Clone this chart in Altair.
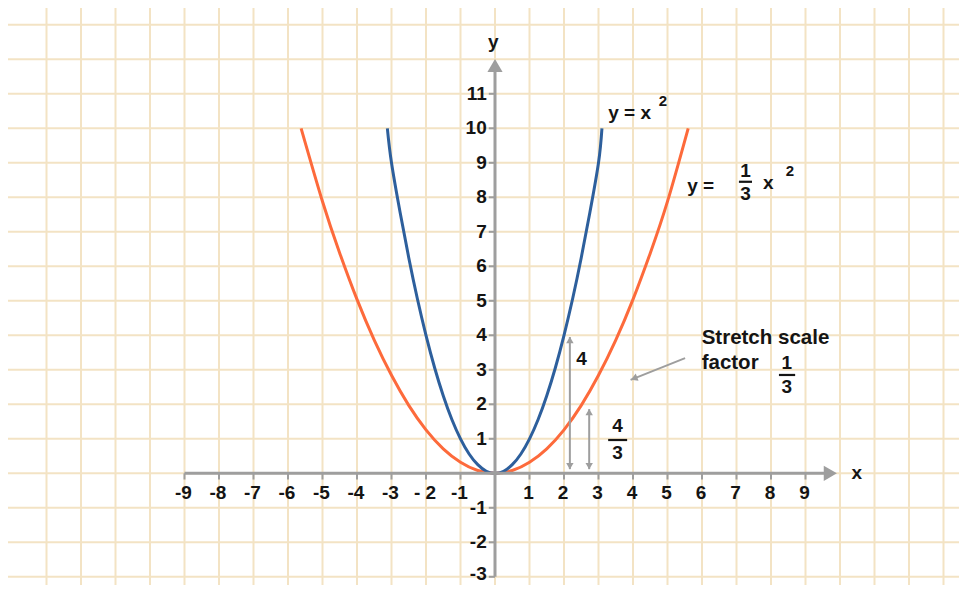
import altair as alt
import pandas as pd

# ---------------- data ----------------
blue_x = [-3.12, -3.0, -2.75, -2.5, -2.25, -2.0, -1.75, -1.5, -1.25, -1.0, -0.75, -0.5, -0.25, 0.0,
          0.25, 0.5, 0.75, 1.0, 1.25, 1.5, 1.75, 2.0, 2.25, 2.5, 2.75, 3.0, 3.1]
blue_y = [10.0, 9.0, 7.56, 6.25, 5.06, 4.0, 3.06, 2.25, 1.56, 1.0, 0.56, 0.25, 0.06, 0.0,
          0.06, 0.25, 0.56, 1.0, 1.56, 2.25, 3.06, 4.0, 5.06, 6.25, 7.56, 9.0, 10.0]

orange_x = [-5.62, -5.0, -4.5, -4.0, -3.5, -3.0, -2.5, -2.0, -1.5, -1.0, -0.5, 0.0,
            0.5, 1.0, 1.5, 2.0, 2.5, 3.0, 3.5, 4.0, 4.5, 5.0, 5.6]
orange_y = [10.0, 7.88, 6.38, 5.04, 3.86, 2.84, 1.97, 1.26, 0.71, 0.32, 0.08, 0.0,
            0.08, 0.32, 0.71, 1.26, 1.97, 2.84, 3.86, 5.04, 6.38, 7.88, 10.0]

x_tick_values = [-9, -8, -7, -6, -5, -4, -3, -2, -1, 1, 2, 3, 4, 5, 6, 7, 8, 9]
x_tick_labels = ["-9", "-8", "-7", "-6", "-5", "-4", "-3", "- 2", "-1", "1", "2", "3", "4", "5", "6", "7", "8", "9"]
y_tick_values = [11, 10, 9, 8, 7, 6, 5, 4, 3, 2, 1, -1, -2]
y_tick_labels = ["11", "10", "9", "8", "7", "6", "5", "4", "3", "2", "1", "-1", "-2"]
y_bottom_value = [-3]
y_bottom_label = ["-3"]

grid_x = list(range(-13, 14))
grid_y = list(range(-3, 14))

# annotation texts (text, x, y)
left_texts = ["y = x", "y ="]
left_x = [3.28, 5.57]
left_y = [10.44, 8.33]

note_texts = ["Stretch scale", "factor"]
note_x = [5.99, 5.99]
note_y = [3.92, 3.20]

center_texts = ["1", "3", "x", "1", "3", "4", "4", "3", "x", "y"]
center_x = [7.26, 7.26, 7.92, 8.46, 8.46, 2.51, 3.55, 3.55, 10.49, -0.05]
center_y = [8.76, 8.10, 8.41, 3.20, 2.50, 3.31, 1.36, 0.58, 0.0, 12.51]

sup_texts = ["2", "2"]
sup_x = [4.87, 8.55]
sup_y = [10.80, 8.76]

frac_x1 = [7.07, 8.23, 3.28]
frac_x2 = [7.45, 8.70, 3.83]
frac_y = [8.45, 2.85, 0.965]

# vertical double arrows (x, y bottom, y top)
varrow_x = [2.17, 2.73]
varrow_y0 = [0.12, 0.12]
varrow_y1 = [3.95, 1.86]

# pointer arrow (from -> to)
ptr_x0, ptr_y0, ptr_x1, ptr_y1 = 5.51, 3.34, 3.93, 2.71

# ---------------- layout ----------------
W, H = 951, 577
UNIT = 34.5
OX, OY = 487.0, 465.3
XMIN, XMAX = -OX / UNIT, (W - OX) / UNIT
YMAX, YMIN = OY / UNIT, -(H - OY) / UNIT

xs = alt.Scale(domain=[XMIN, XMAX], nice=False, zero=False)
ys = alt.Scale(domain=[YMIN, YMAX], nice=False, zero=False)

def X(f="x"):
    return alt.X(f"{f}:Q", scale=xs, axis=None)

def Y(f="y"):
    return alt.Y(f"{f}:Q", scale=ys, axis=None)

GRID = "#f3e3c4"
GRAY = "#9e9e9e"
FONT = "Liberation Sans"
TXT = "#141414"

grid_v = alt.Chart(pd.DataFrame({"x": grid_x})).mark_rule(color=GRID, strokeWidth=2).encode(x=X())
grid_h = alt.Chart(pd.DataFrame({"y": grid_y})).mark_rule(color=GRID, strokeWidth=2).encode(y=Y())

orange = alt.Chart(pd.DataFrame({"x": orange_x, "y": orange_y, "o": range(len(orange_x))})).mark_line(
    color="#fd6a3b", strokeWidth=3, interpolate="natural").encode(x=X(), y=Y(), order="o:Q")
blue = alt.Chart(pd.DataFrame({"x": blue_x, "y": blue_y, "o": range(len(blue_x))})).mark_line(
    color="#2d5f9c", strokeWidth=3, interpolate="natural").encode(x=X(), y=Y(), order="o:Q")

# axes
axes_df = pd.DataFrame({"x": [-9, 0], "x2": [9.72, 0], "y": [0, -3], "y2": [0, 11.82]})
axes = alt.Chart(axes_df).mark_rule(color=GRAY, strokeWidth=3).encode(
    x=X(), x2="x2:Q", y=Y(), y2="y2:Q")
xarrow = alt.Chart(pd.DataFrame({"x": [9.72], "y": [0]})).mark_point(
    shape="triangle-right", filled=True, color=GRAY, size=230, opacity=1).encode(x=X(), y=Y())
yarrow = alt.Chart(pd.DataFrame({"x": [0], "y": [11.82]})).mark_point(
    shape="triangle-up", filled=True, color=GRAY, size=230, opacity=1).encode(x=X(), y=Y())

xt = pd.DataFrame({"x": x_tick_values, "y": [0] * len(x_tick_values), "y2": [-0.18] * len(x_tick_values)})
xticks = alt.Chart(xt).mark_rule(color=GRAY, strokeWidth=2).encode(x=X(), y=Y(), y2="y2:Q")
all_y_ticks = y_tick_values + y_bottom_value
yt = pd.DataFrame({"y": all_y_ticks, "x": [0] * len(all_y_ticks), "x2": [-0.18] * len(all_y_ticks)})
yticks = alt.Chart(yt).mark_rule(color=GRAY, strokeWidth=2).encode(x=X(), x2="x2:Q", y=Y())

xlab = alt.Chart(pd.DataFrame({"x": x_tick_values, "t": x_tick_labels, "y": [-0.57] * len(x_tick_values)})).mark_text(
    font=FONT, fontWeight="bold", fontSize=19, color=TXT, align="center", baseline="middle", dx=-1).encode(
    x=X(), y=Y(), text="t:N")
ylab = alt.Chart(pd.DataFrame({"y": y_tick_values, "t": y_tick_labels, "x": [-0.24] * len(y_tick_values)})).mark_text(
    font=FONT, fontWeight="bold", fontSize=19, color=TXT, align="right", baseline="middle").encode(
    x=X(), y=Y(), text="t:N")
ylab_bottom = alt.Chart(pd.DataFrame({"y": y_bottom_value, "t": y_bottom_label, "x": [-0.24]})).mark_text(
    font=FONT, fontWeight="bold", fontSize=19, color=TXT, align="right", baseline="bottom", dy=7).encode(
    x=X(), y=Y(), text="t:N")

# vertical double arrows
va = pd.DataFrame({"x": varrow_x, "y": varrow_y0, "y2": varrow_y1})
vrules = alt.Chart(va).mark_rule(color=GRAY, strokeWidth=2).encode(x=X(), y=Y(), y2="y2:Q")
vheads_top = alt.Chart(pd.DataFrame({"x": varrow_x, "y": varrow_y1})).mark_point(
    shape="triangle-up", filled=True, color=GRAY, size=55, opacity=1, yOffset=3).encode(x=X(), y=Y())
vheads_bot = alt.Chart(pd.DataFrame({"x": varrow_x, "y": varrow_y0})).mark_point(
    shape="triangle-down", filled=True, color=GRAY, size=55, opacity=1, yOffset=-3).encode(x=X(), y=Y())

# pointer arrow
ptr = alt.Chart(pd.DataFrame({"x": [ptr_x0], "y": [ptr_y0], "x2": [ptr_x1], "y2": [ptr_y1]})).mark_rule(
    color=GRAY, strokeWidth=2).encode(x=X(), y=Y(), x2="x2:Q", y2="y2:Q")
ptr_head = alt.Chart(pd.DataFrame({"x": [ptr_x1 + 0.1], "y": [ptr_y1 + 0.04]})).mark_point(
    shape="triangle-up", filled=True, color=GRAY, size=60, opacity=1, angle=248).encode(x=X(), y=Y())

# fraction bars
fr = alt.Chart(pd.DataFrame({"x": frac_x1, "x2": frac_x2, "y": frac_y})).mark_rule(
    color=TXT, strokeWidth=2.2).encode(x=X(), x2="x2:Q", y=Y())

left_t = alt.Chart(pd.DataFrame({"x": left_x, "y": left_y, "t": left_texts})).mark_text(
    font=FONT, fontWeight="bold", fontSize=19, color=TXT, align="left", baseline="middle").encode(
    x=X(), y=Y(), text="t:N")
note_t = alt.Chart(pd.DataFrame({"x": note_x, "y": note_y, "t": note_texts})).mark_text(
    font=FONT, fontWeight="bold", fontSize=20.5, color=TXT, align="left", baseline="middle").encode(
    x=X(), y=Y(), text="t:N")
center_t = alt.Chart(pd.DataFrame({"x": center_x, "y": center_y, "t": center_texts})).mark_text(
    font=FONT, fontWeight="bold", fontSize=19, color=TXT, align="center", baseline="middle").encode(
    x=X(), y=Y(), text="t:N")
sup_t = alt.Chart(pd.DataFrame({"x": sup_x, "y": sup_y, "t": sup_texts})).mark_text(
    font=FONT, fontWeight="bold", fontSize=15, color=TXT, align="center", baseline="middle").encode(
    x=X(), y=Y(), text="t:N")

chart = alt.layer(
    grid_v, grid_h, orange, blue, axes, xarrow, yarrow, xticks, yticks, xlab, ylab, ylab_bottom,
    vrules, vheads_top, vheads_bot, ptr, ptr_head, fr, left_t, note_t, center_t, sup_t
).properties(
    width=W, height=H, padding=0, autosize=alt.AutoSizeParams(type="none"), background="white"
).configure_view(stroke=None)

chart.save("out.html", embed_options={"renderer": "svg", "actions": False})
